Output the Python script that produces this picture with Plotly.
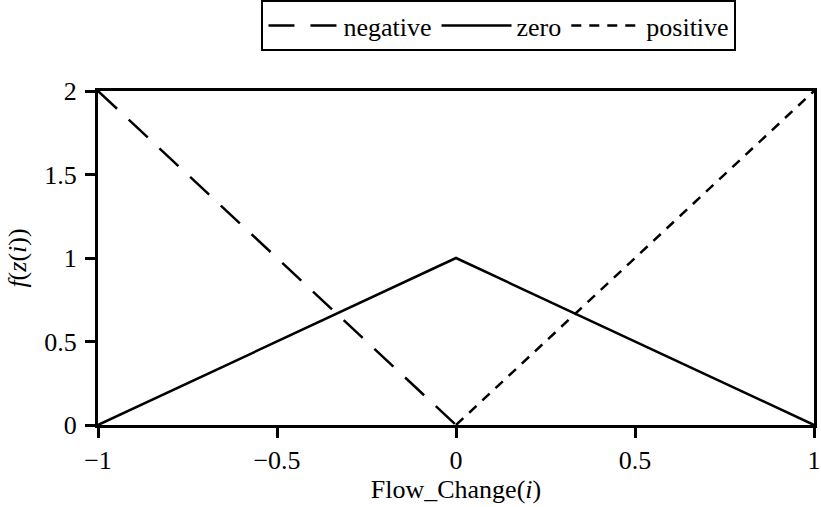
import plotly.graph_objects as go

neg_x = [-1, 0]
neg_y = [2, 0]
zero_x = [-1, 0, 1]
zero_y = [0, 1, 0]
pos_x = [0, 1]
pos_y = [0, 2]

x_ticks = [-1, -0.5, 0, 0.5, 1]
x_labels = ["\u22121", "\u22120.5", "0", "0.5", "1"]
y_ticks = [0, 0.5, 1, 1.5, 2]
y_labels = ["0", "0.5", "1", "1.5", "2"]

FONT = '"Liberation Serif", "Times New Roman", serif'
FS = 26

fig = go.Figure()
fig.add_trace(go.Scatter(x=neg_x, y=neg_y, mode="lines", name="negative",
                         line=dict(color="black", width=2.5, dash="26px,16px")))
fig.add_trace(go.Scatter(x=zero_x, y=zero_y, mode="lines", name="zero",
                         line=dict(color="black", width=2.5)))
fig.add_trace(go.Scatter(x=pos_x, y=pos_y, mode="lines", name="positive",
                         line=dict(color="black", width=2.5, dash="10px,8px")))

fig.update_layout(
    width=821, height=507,
    margin=dict(l=98, r=7, t=91, b=82, autoexpand=False),
    paper_bgcolor="white", plot_bgcolor="white",
    font=dict(family=FONT, size=FS, color="black"),
    showlegend=True,
    legend=dict(orientation="h", x=0.56, xanchor="center", y=1.272, yanchor="top",
                bordercolor="black", borderwidth=2, bgcolor="white",
                font=dict(family=FONT, size=FS), itemwidth=70, tracegroupgap=0),
    xaxis=dict(range=[-1, 1], tickvals=x_ticks, ticktext=x_labels,
               showline=True, linecolor="black", linewidth=3, mirror=True,
               ticks="outside", ticklen=10, tickwidth=2.5, tickcolor="black",
               ticklabeloverflow="allow",
               showgrid=False, zeroline=False,
               title=dict(text="Flow_Change(<i>i</i>)", standoff=0,
                          font=dict(family=FONT, size=FS))),
    yaxis=dict(range=[0, 2], tickvals=y_ticks, ticktext=y_labels,
               showline=True, linecolor="black", linewidth=3, mirror=True,
               ticks="outside", ticklen=10, tickwidth=2.5, tickcolor="black",
               ticklabelstandoff=3,
               showgrid=False, zeroline=False,
               title=dict(text="<i>f</i>(<i>z</i>(<i>i</i>))", standoff=11,
                          font=dict(family=FONT, size=FS))),
)

fig.write_html("out.html", config={"displayModeBar": False},
               post_script="document.body.style.margin='0';document.body.style.overflow='hidden';")
